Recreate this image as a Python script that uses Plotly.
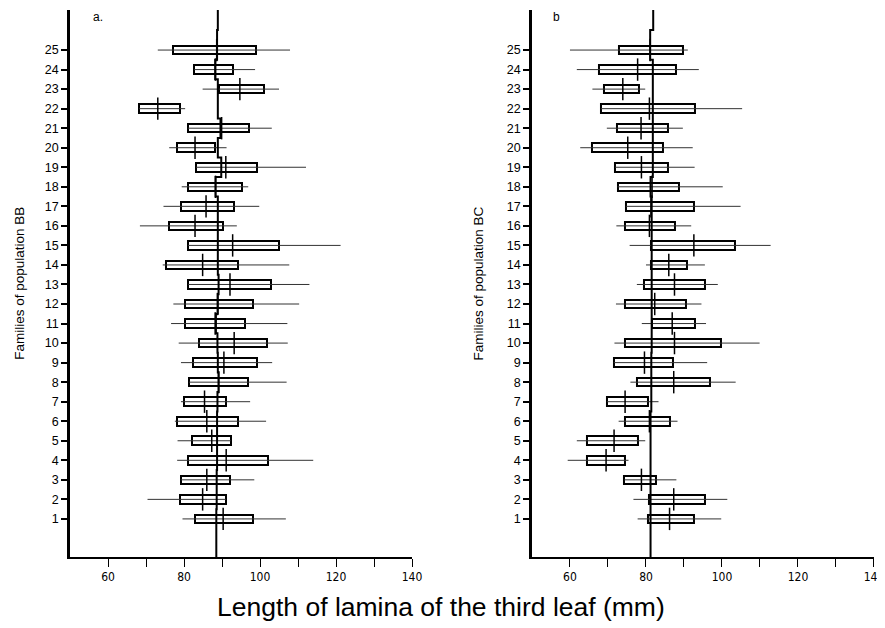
import plotly.graph_objects as go

families = list(range(1, 26))

# Population BB (families 1..25)
bb_box_lo = [83.0, 78.9, 79.1, 81.1, 82.0, 78.1, 80.1, 81.3, 82.3, 83.9, 80.3, 80.3, 81.1,
             75.3, 81.0, 76.1, 79.1, 81.1, 83.2, 78.2, 81.0, 68.2, 89.1, 82.7, 77.2]
bb_box_hi = [98.1, 91.0, 92.1, 102.0, 92.3, 94.3, 91.0, 96.9, 99.1, 101.9, 96.1, 98.2, 102.8,
             94.1, 105.0, 90.2, 93.2, 95.2, 99.1, 88.2, 97.2, 78.9, 101.0, 93.0, 98.9]
bb_min = [79.6, 70.4, 79.1, 78.2, 78.3, 77.6, 79.2, 81.3, 79.2, 78.6, 76.6, 77.2, 81.1,
          74.4, 81.0, 68.4, 74.6, 79.4, 83.2, 76.1, 81.0, 68.2, 84.9, 82.7, 73.1]
bb_max = [106.8, 91.0, 98.5, 114.0, 92.3, 101.6, 97.4, 107.0, 103.2, 107.3, 107.2, 110.3, 113.0,
          107.7, 121.2, 93.9, 99.8, 96.9, 112.1, 91.2, 103.1, 80.3, 105.0, 98.7, 107.9]
bb_mean = [90.3, 84.9, 86.0, 91.1, 87.3, 86.0, 85.4, 89.1, 90.5, 93.2, 88.2, 88.8, 92.1,
           84.9, 92.8, 82.9, 85.8, 88.3, 91.0, 82.9, 89.9, 73.1, 94.7, 88.3, 88.6]

# Population BC (families 1..25)
bc_box_lo = [80.5, 80.9, 74.3, 64.4, 64.4, 74.5, 69.7, 77.6, 71.5, 74.5, 81.6, 74.5, 79.6,
             81.4, 81.4, 74.5, 74.7, 72.5, 71.9, 65.9, 72.3, 68.1, 69.0, 67.6, 73.0]
bc_box_hi = [92.6, 95.6, 82.5, 74.5, 77.8, 86.4, 80.4, 96.8, 87.1, 99.8, 92.8, 90.6, 95.6,
             90.8, 103.3, 87.5, 92.6, 88.6, 85.7, 84.6, 85.7, 93.0, 78.2, 88.0, 89.7]
bc_min = [77.8, 76.7, 74.3, 59.4, 61.8, 72.8, 69.7, 75.9, 71.5, 71.7, 78.9, 72.1, 77.6,
          80.0, 75.7, 72.2, 74.7, 72.5, 71.9, 62.7, 69.7, 68.1, 65.9, 61.8, 60.0]
bc_max = [99.8, 101.4, 88.0, 75.4, 79.8, 88.3, 83.3, 103.6, 96.1, 109.9, 95.8, 94.6, 98.9,
          95.5, 112.8, 91.9, 104.9, 100.2, 92.8, 92.3, 89.7, 105.3, 79.8, 93.9, 91.0]
bc_mean = [86.2, 87.3, 78.8, 69.5, 71.6, 80.9, 74.5, 87.3, 79.6, 87.5, 86.9, 82.3, 87.5,
           86.0, 92.6, 80.9, 81.3, 81.6, 78.8, 75.2, 78.7, 80.9, 73.9, 77.8, 81.1]

# Population mean reference line (hand-drawn, slightly wavy): top, families 25..1, bottom
line_y = [27.05] + list(range(25, 0, -1)) + [-0.95]
bb_line = [88.9, 88.7, 88.2, 88.9, 88.9, 89.6, 88.9, 89.8, 88.3, 88.9, 88.9, 88.9, 88.9, 89.1,
           88.9, 88.4, 88.8, 88.9, 89.1, 88.8, 88.7, 88.7, 88.7, 88.6, 88.6, 88.5, 88.5]
bc_line = [81.9, 81.1, 81.8, 81.8, 81.8, 81.8, 81.8, 81.8, 81.2, 81.5, 81.5, 81.5, 81.5, 81.5,
           81.5, 81.5, 81.5, 81.4, 81.4, 81.4, 81.2, 81.2, 81.2, 81.2, 81.2, 81.2, 81.2]

x_ticks = [60, 70, 80, 90, 100, 110, 120, 130, 140]
x_ticktext = ["60", "", "80", "", "100", "", "120", "", "140"]

FONT = "Liberation Sans, Arial, Helvetica, sans-serif"
NARROW = "Liberation Sans Narrow, DejaVu Sans Condensed, Arial Narrow, sans-serif"

fig = go.Figure()


def add_panel(box_lo, box_hi, vmin, vmax, vmean, line_vals, xa, ya):
    widths = [h - l for l, h in zip(box_lo, box_hi)]
    fig.add_trace(go.Bar(
        y=families, x=widths, base=box_lo, orientation="h", width=0.44,
        marker=dict(color="white", line=dict(color="black", width=2)),
        xaxis=xa, yaxis=ya, showlegend=False, hoverinfo="skip"))
    fig.add_trace(go.Scatter(
        y=families, x=vmean, mode="markers",
        marker=dict(symbol="line-ns", size=16, color="black",
                    line=dict(color="black", width=1.5)),
        error_x=dict(type="data", symmetric=False,
                     array=[mx - m for mx, m in zip(vmax, vmean)],
                     arrayminus=[m - mn for mn, m in zip(vmin, vmean)],
                     width=0, thickness=1, color="#333333"),
        xaxis=xa, yaxis=ya, showlegend=False))
    fig.add_trace(go.Scatter(
        y=line_y, x=line_vals, mode="lines", line_shape="vhv",
        line=dict(color="black", width=2),
        xaxis=xa, yaxis=ya, showlegend=False, hoverinfo="skip"))


add_panel(bb_box_lo, bb_box_hi, bb_min, bb_max, bb_mean, bb_line, "x", "y")
add_panel(bc_box_lo, bc_box_hi, bc_min, bc_max, bc_mean, bc_line, "x2", "y2")

xaxis_common = dict(range=[50, 140], tickvals=x_ticks, ticktext=x_ticktext,
                    ticks="outside", ticklen=8, tickwidth=1, tickcolor="black",
                    showline=True, linecolor="black", linewidth=2,
                    showgrid=False, zeroline=False, automargin=False,
                    tickfont=dict(family=NARROW, size=12, color="black"))
yaxis_common = dict(range=[-0.95, 27.05], tickvals=families,
                    ticks="outside", ticklen=6, tickwidth=1.5, tickcolor="black",
                    showline=True, linecolor="black", linewidth=2.5,
                    showgrid=False, zeroline=False, automargin=False,
                    tickfont=dict(family=FONT, size=12.5, color="black"))

fig.update_layout(
    width=877, height=620,
    margin=dict(l=62, r=11, t=2, b=71),
    paper_bgcolor="white", plot_bgcolor="white",
    bargap=0,
    xaxis=dict(domain=[0, 0.4254], anchor="y", **xaxis_common),
    xaxis2=dict(domain=[0.5746, 1.0], anchor="y2", **xaxis_common),
    yaxis=dict(anchor="x", **yaxis_common),
    yaxis2=dict(anchor="x2", **yaxis_common),
    font=dict(family=FONT, color="black"),
    annotations=[
        dict(text="Length of lamina of the third leaf (mm)", xref="paper", yref="paper",
             x=0.4615, y=-0.0914, xanchor="center", yanchor="middle", showarrow=False,
             font=dict(family=FONT, size=26.5, color="black")),
        dict(text="Families of population BB", xref="paper", yref="paper",
             x=-0.063, y=0.5, textangle=-90, xanchor="center", yanchor="middle",
             showarrow=False, font=dict(family=FONT, size=13.5, color="black")),
        dict(text="Families of population BC", xref="paper", yref="paper",
             x=0.5075, y=0.5, textangle=-90, xanchor="center", yanchor="middle",
             showarrow=False, font=dict(family=FONT, size=13.5, color="black")),
        dict(text="a.", xref="paper", yref="paper", x=0.0348, y=1.0036,
             xanchor="center", yanchor="top", showarrow=False,
             font=dict(family=FONT, size=12, color="black")),
        dict(text="b", xref="paper", yref="paper", x=0.6057, y=1.0036,
             xanchor="center", yanchor="top", showarrow=False,
             font=dict(family=FONT, size=12, color="black")),
    ],
)

fig.write_html("out.html")
